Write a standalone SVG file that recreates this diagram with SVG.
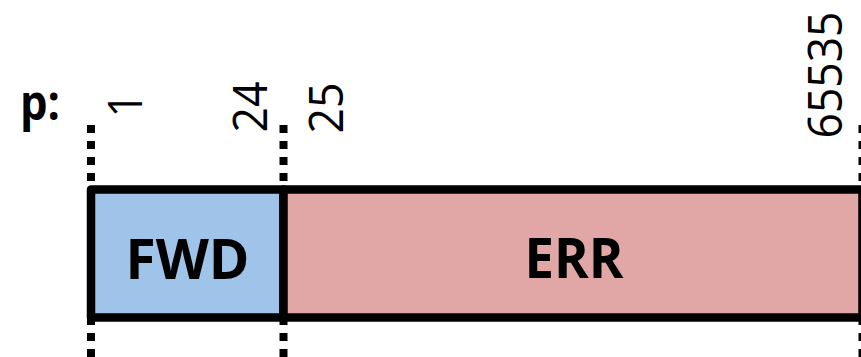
<svg xmlns="http://www.w3.org/2000/svg" width="861" height="357" viewBox="0 0 861 357">
  <style>
    .guide { stroke: #000; stroke-width: 8; stroke-dasharray: 8 8; fill: none; }
    .field { stroke: #000; stroke-width: 8.5; stroke-linejoin: round; }
    .num { font-family: "Open Sans", "Liberation Sans", sans-serif; font-size: 48px; fill: #000; text-anchor: middle; }
    .lbl { font-family: "Open Sans", "Liberation Sans", sans-serif; font-weight: bold; font-size: 56px; fill: #000; text-anchor: middle; }
  </style>

  <rect width="861" height="357" fill="#fff"/>

  <!-- boundary guides -->
  <g id="guides">
    <line class="guide" x1="91" y1="125" x2="91" y2="357"/>
    <line class="guide" x1="283.5" y1="125" x2="283.5" y2="357"/>
    <line class="guide" x1="862.5" y1="125" x2="862.5" y2="357"/>
  </g>

  <!-- field ranges -->
  <g id="fwd">
    <rect class="field" x="91" y="189.5" width="192.5" height="128" fill="#9FC3E9"/>
    <text class="lbl" x="187.5" y="279" textLength="124" lengthAdjust="spacingAndGlyphs">FWD</text>
  </g>
  <g id="err">
    <rect class="field" x="283.5" y="189.5" width="579" height="128" fill="#E1A7A6"/>
    <text class="lbl" x="574" y="278" textLength="99" lengthAdjust="spacingAndGlyphs">ERR</text>
  </g>

  <!-- axis label and position numbers -->
  <g id="axis">
    <text x="20" y="120" font-family="'Open Sans', 'Liberation Sans', sans-serif" font-weight="bold" font-size="48" textLength="40" lengthAdjust="spacingAndGlyphs">p:</text>
    <text class="num" transform="translate(142,105) rotate(-90)" textLength="25" lengthAdjust="spacingAndGlyphs">1</text>
    <text class="num" transform="translate(267,107) rotate(-90)" textLength="51" lengthAdjust="spacingAndGlyphs">24</text>
    <text class="num" transform="translate(343,108) rotate(-90)" textLength="51" lengthAdjust="spacingAndGlyphs">25</text>
    <text class="num" transform="translate(842,75) rotate(-90)" textLength="127" lengthAdjust="spacingAndGlyphs">65535</text>
  </g>
</svg>
